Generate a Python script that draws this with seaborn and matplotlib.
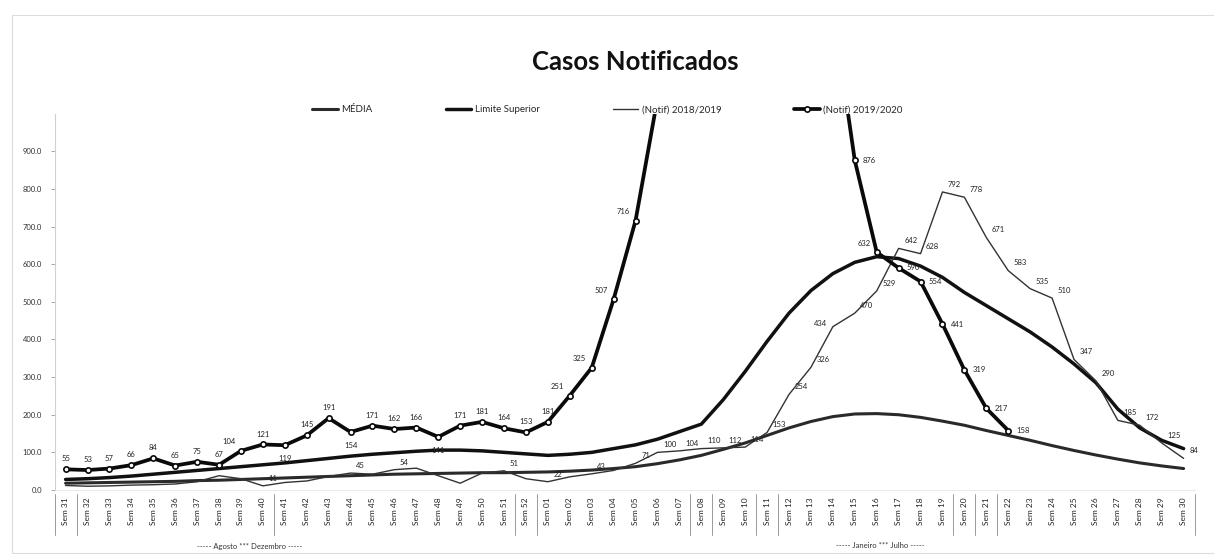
import numpy as np
import pandas as pd
import matplotlib
matplotlib.use("Agg")
import matplotlib.pyplot as plt
import matplotlib.transforms as mtransforms
import seaborn as sns

sns.set_theme(style="white")
plt.rcParams['font.family'] = ['Lato', 'DejaVu Sans']

# Semanas epidemiológicas: Sem 31 (2019) .. Sem 30 (2020)
semanas = [f"Sem {n}" for n in range(31, 53)] + [f"Sem {n:02d}" for n in range(1, 31)]

media = [18, 19, 20, 21, 22, 23, 25, 26, 28, 30,
         32, 34, 36, 38, 40, 42, 43, 44, 45, 46,
         46, 47, 48, 50, 53, 57, 62, 70, 80, 92,
         108, 125, 145, 165, 182, 195, 202, 203, 200, 193,
         183, 172, 158, 145, 132, 118, 105, 93, 82, 72,
         64, 57]

limite_superior = [28, 30, 33, 37, 42, 47, 52, 57, 62, 67,
                   72, 78, 84, 90, 95, 99, 103, 106, 106, 104,
                   100, 96, 92, 95, 100, 110, 120, 135, 155, 175,
                   240, 315, 395, 470, 530, 575, 605, 620, 615, 595,
                   565, 525, 490, 455, 420, 380, 335, 285, 215, 165,
                   132, 110]

notif_2018_2019 = [12, 10, 11, 13, 14, 16, 22, 38, 30, 11,
                   20, 24, 36, 45, 42, 54, 58, 38, 18, 45,
                   51, 30, 22, 35, 43, 52, 71, 100, 104, 110,
                   112, 114, 153, 254, 326, 434, 470, 529, 642, 628,
                   792, 778, 671, 583, 535, 510, 347, 290, 185, 172,
                   125, 84]

# Sem 06 - Sem 14 ficam acima do topo do eixo (valores estimados)
notif_2019_2020 = [55, 53, 57, 66, 84, 65, 75, 67, 104, 121,
                   119, 145, 191, 154, 171, 162, 166, 141, 171, 181,
                   164, 153, 181, 251, 325, 507, 716, 1040, 1250, 1450,
                   1600, 1700, 1650, 1500, 1380, 1280, 876, 632, 590, 554,
                   441, 319, 217, 158]

x = np.arange(len(semanas))
x_2020 = x[:len(notif_2019_2020)]

fig, ax = plt.subplots(figsize=(12.14, 5.6), dpi=100)
fig.subplots_adjust(left=0.045, right=0.984, bottom=0.125, top=0.797)

sns.lineplot(x=x, y=media, ax=ax, color='#2a2a2a', linewidth=2.2, label='MÉDIA')
sns.lineplot(x=x, y=limite_superior, ax=ax, color='#111111', linewidth=2.5, label='Limite Superior')
sns.lineplot(x=x, y=notif_2018_2019, ax=ax, color='#333333', linewidth=1.0,
             label='(Notif) 2018/2019')
sns.lineplot(x=x_2020, y=notif_2019_2020, ax=ax, color='#0a0a0a', linewidth=2.7,
             marker='o', markersize=3.8, markerfacecolor='white', markeredgecolor='#0a0a0a',
             markeredgewidth=1.2, label='(Notif) 2019/2020')

ax.set_xlim(-0.5, len(semanas) - 0.5)
ax.set_ylim(0, 1000)

# rótulos de dados - 2019/2020
below = {10, 13, 17}
left = {8, 23, 24, 25, 26, 37}
for i, v in zip(x_2020, notif_2019_2020):
    if v > 1000:
        continue
    if i in below:
        off, ha, va = (0, -7), 'center', 'top'
    elif i in left:
        off, ha, va = (-4, 4), 'right', 'bottom'
    elif i >= 36:
        off, ha, va = (6, 0), 'left', 'center'
    else:
        off, ha, va = (0, 5), 'center', 'bottom'
    ax.annotate(str(v), (i, v), xytext=off, textcoords='offset points',
                ha=ha, va=va, fontsize=5.5, color='#222222')

# rótulos de dados - 2018/2019
lab_1819 = [9, 13, 15, 20, 22, 24] + list(range(26, len(semanas)))
for i in lab_1819:
    v = notif_2018_2019[i]
    if i == 35:
        off, ha = (-4, 0), 'right'
    else:
        off, ha = (4, 3), 'left'
    ax.annotate(str(v), (i, v), xytext=off, textcoords='offset points',
                ha=ha, va='bottom', fontsize=5.5, color='#222222')

# eixos
ax.set_yticks(range(0, 1000, 100))
ax.set_yticklabels([f"{v:.1f}" for v in range(0, 1000, 100)], fontsize=5.5, color='#333333')
ax.set_xticks(x)
ax.set_xticklabels(semanas, rotation=90, fontsize=6, color='#222222')
ax.tick_params(axis='x', length=0, pad=5)
ax.tick_params(axis='y', length=3, width=0.6, color='#999999', pad=6, left=True)
for s in ['top', 'right']:
    ax.spines[s].set_visible(False)
ax.spines['left'].set_color('#d0d0d0')
ax.spines['left'].set_linewidth(0.8)
ax.spines['bottom'].set_color('#e6e6e6')
ax.spines['bottom'].set_linewidth(0.6)

# separadores na área dos rótulos
trans = mtransforms.blended_transform_factory(ax.transData, ax.transAxes)
for b in [-0.5, 0.5, 9.5, 20.5, 21.5, 28.5, 29.5, 31.5, 32.5, 40.5, 41.5, 42.5, 51.5]:
    ax.plot([b, b], [-0.01, -0.12], transform=trans, color='#9a9a9a', linewidth=0.7,
            clip_on=False)

fig.text(250 / 1214, 1 - 546 / 560, "----- Agosto *** Dezembro -----", ha='center',
         va='center', fontsize=5.5, color='#333333')
fig.text(880 / 1214, 1 - 546 / 560, "----- Janeiro *** Julho -----", ha='center',
         va='center', fontsize=5.5, color='#333333')

ax.legend(loc='center', bbox_to_anchor=(0.485, 1.01), ncol=4, frameon=False, fontsize=7,
          columnspacing=7.5, handlelength=2.6, handletextpad=0.4)

fig.text(0.523, 1 - 62 / 560, "Casos Notificados", ha='center', va='center',
         fontsize=18.5, fontweight='bold', color='#111111')

# bordas do papel digitalizado
fig.add_artist(plt.Rectangle((12 / 1214, 7 / 560), 1.2, 1 - 22 / 560, transform=fig.transFigure,
                             fill=False, edgecolor='#dddddd', linewidth=0.8))

fig.savefig('out.png', dpi=100)
